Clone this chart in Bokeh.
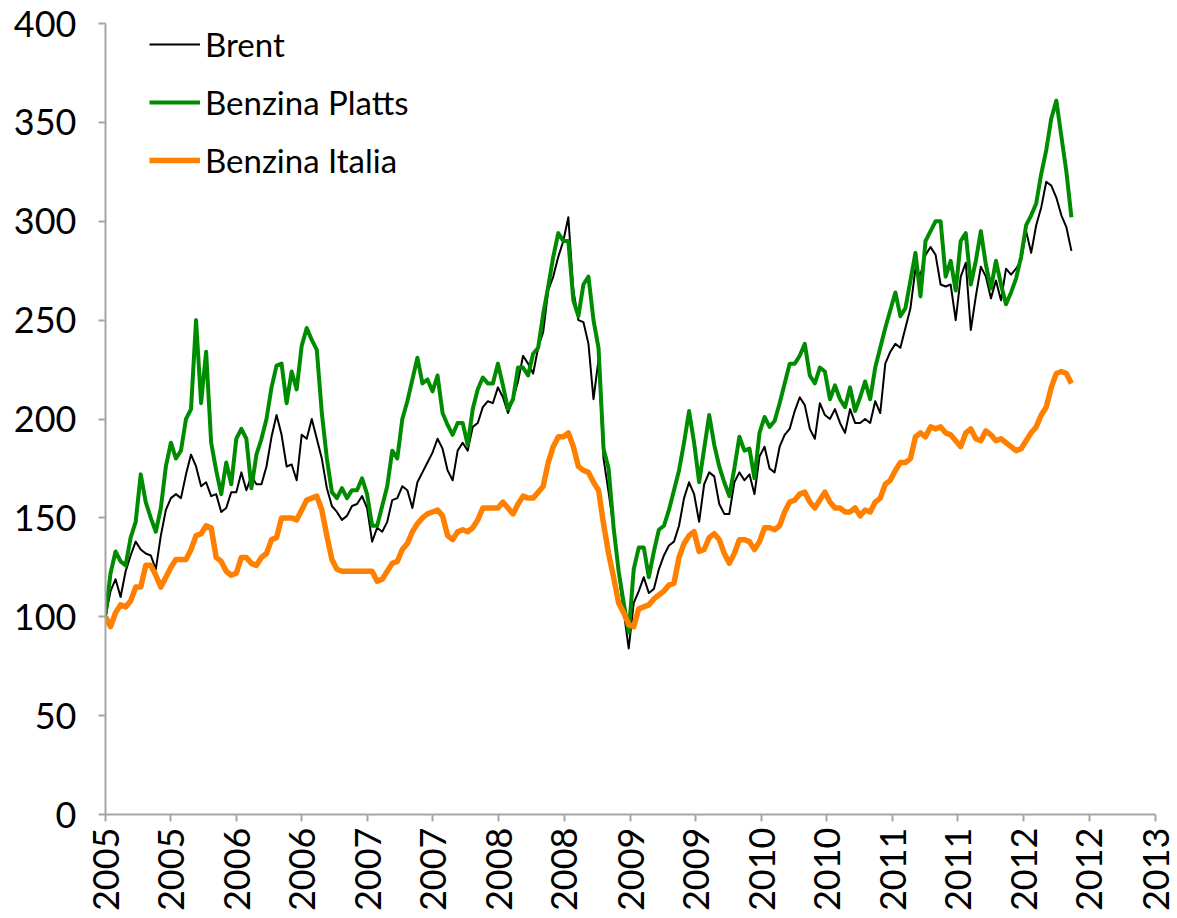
import math
import pandas as pd
from bokeh.plotting import figure
from bokeh.models import Range1d, FixedTicker, Legend, LegendItem, DatetimeTickFormatter
from bokeh.embed import file_html
from bokeh.resources import INLINE

# ---- data (index, 2005 = 100), biweekly observations from 2005-01-01 ----
START = "2005-01-01"
STEP = "14D"

BRENT = [
    100, 113, 119, 110, 123, 131, 138, 134, 132, 131,
    124, 141, 154, 160, 162, 160, 172, 182, 176, 166,
    168, 161, 162, 153, 155, 163, 163, 173, 164, 171,
    167, 167, 176, 191, 202, 192, 176, 177, 169, 192,
    190, 200, 190, 180, 165, 156, 153, 149, 151, 156,
    157, 161, 155, 138, 145, 143, 148, 159, 160, 166,
    164, 155, 168, 173, 178, 183, 190, 185, 174, 169,
    184, 188, 184, 196, 198, 206, 209, 208, 216, 211,
    203, 210, 219, 232, 228, 223, 236, 244, 265, 272,
    282, 290, 302, 265, 250, 249, 238, 210, 230, 180,
    163, 145, 122, 103, 84, 107, 113, 120, 112, 114,
    124, 131, 136, 138, 146, 160, 168, 162, 148, 167,
    173, 171, 157, 152, 152, 168, 173, 169, 172, 162,
    181, 186, 175, 173, 186, 192, 195, 204, 211, 207,
    195, 190, 208, 202, 200, 205, 198, 193, 205, 198,
    198, 200, 198, 209, 203, 228, 234, 238, 236, 246,
    256, 276, 273, 283, 287, 283, 268, 267, 268, 250,
    272, 279, 245, 262, 277, 272, 261, 270, 260, 276,
    273, 276, 280, 295, 284, 298, 307, 320, 318, 312,
    303, 297, 285,
]

PLATTS = [
    101, 122, 133, 128, 126, 140, 148, 172, 158, 150,
    143, 155, 176, 188, 180, 184, 200, 205, 250, 208,
    234, 188, 174, 162, 178, 167, 190, 195, 190, 165,
    182, 190, 200, 216, 227, 228, 208, 224, 215, 237,
    246, 240, 235, 203, 180, 163, 160, 165, 160, 164,
    164, 170, 162, 146, 146, 156, 166, 184, 180, 200,
    209, 220, 231, 218, 220, 214, 222, 203, 197, 192,
    198, 198, 187, 205, 215, 221, 218, 218, 228, 217,
    205, 210, 226, 226, 222, 233, 236, 253, 267, 282,
    294, 290, 290, 260, 252, 268, 272, 250, 236, 185,
    175, 145, 123, 107, 92, 124, 135, 135, 120, 133,
    144, 146, 154, 164, 174, 188, 204, 188, 168, 185,
    202, 187, 176, 168, 161, 175, 191, 184, 185, 170,
    193, 201, 196, 199, 208, 218, 228, 228, 232, 238,
    222, 218, 226, 224, 210, 217, 210, 206, 216, 204,
    211, 219, 210, 226, 236, 246, 255, 264, 252, 256,
    270, 284, 262, 290, 295, 300, 300, 272, 280, 265,
    290, 294, 268, 280, 295, 278, 266, 280, 268, 258,
    264, 271, 282, 298, 303, 309, 324, 336, 352, 361,
    343, 325, 302,
]

ITALIA = [
    100, 95, 102, 106, 105, 108, 115, 115, 126, 126,
    121, 115, 120, 125, 129, 129, 129, 134, 141, 142,
    146, 145, 130, 128, 123, 121, 122, 130, 130, 127,
    126, 130, 132, 139, 140, 150, 150, 150, 149, 154,
    159, 160, 161, 154, 141, 129, 124, 123, 123, 123,
    123, 123, 123, 123, 118, 119, 123, 127, 128, 134,
    137, 143, 147, 150, 152, 153, 154, 151, 141, 139,
    143, 144, 143, 145, 149, 155, 155, 155, 155, 158,
    155, 152, 157, 161, 160, 160, 163, 166, 178, 186,
    191, 191, 193, 186, 176, 174, 173, 168, 164, 147,
    132, 120, 107, 102, 96, 95, 104, 105, 106, 109,
    111, 113, 116, 117, 130, 137, 141, 143, 133, 134,
    140, 142, 139, 132, 127, 132, 139, 139, 138, 134,
    138, 145, 145, 144, 146, 153, 158, 159, 162, 163,
    158, 155, 159, 163, 158, 155, 155, 153, 153, 155,
    151, 154, 153, 158, 160, 167, 169, 174, 178, 178,
    180, 191, 193, 191, 196, 195, 196, 193, 192, 189,
    186, 193, 195, 190, 189, 194, 192, 189, 190, 188,
    186, 184, 185, 189, 193, 196, 202, 206, 216, 223,
    224, 223, 218,
]

SERIES_NAMES = ["Brent", "Benzina Platts", "Benzina Italia"]

TICK_DATES = [
    "2005-01-01", "2005-07-01", "2006-01-01", "2006-07-01", "2007-01-01",
    "2007-07-01", "2008-01-01", "2008-07-01", "2009-01-01", "2009-07-01",
    "2010-01-01", "2010-07-01", "2011-01-01", "2011-07-01", "2012-01-01",
    "2012-07-01", "2013-01-01",
]
TICK_LABELS = [
    "2005", "2005", "2006", "2006", "2007", "2007", "2008", "2008", "2009",
    "2009", "2010", "2010", "2011", "2011", "2012", "2012", "2013",
]
Y_TICKS = [0, 50, 100, 150, 200, 250, 300, 350, 400]

# ---- build ----
dates = pd.date_range(START, periods=len(BRENT), freq=STEP)
tick_ms = [pd.Timestamp(d).timestamp() * 1000.0 for d in TICK_DATES]

FONT = "Lato"
AXIS_GRAY = "#A6A6A6"

p = figure(
    width=1175, height=916,
    x_axis_type="datetime",
    x_range=Range1d(pd.Timestamp(TICK_DATES[0]), pd.Timestamp(TICK_DATES[-1])),
    y_range=Range1d(Y_TICKS[0], Y_TICKS[-1]),
    output_backend="svg", toolbar_location=None,
    min_border_left=105, min_border_right=20, min_border_top=23, min_border_bottom=102,
)
p.outline_line_color = None
p.grid.visible = False
p.background_fill_color = "white"
p.border_fill_color = "white"

r_brent = p.line(dates, BRENT, line_color="black", line_width=2, line_join="round")
r_platts = p.line(dates, PLATTS, line_color="#008C00", line_width=4, line_join="round")
r_italia = p.line(dates, ITALIA, line_color="#FF8000", line_width=5.5, line_join="round")

xa = p.xaxis[0]
xa.ticker = FixedTicker(ticks=tick_ms)
xa.formatter = DatetimeTickFormatter(
    years="%Y", months="%Y", days="%Y", hours="%Y", minutes="%Y",
    seconds="%Y", milliseconds="%Y", microseconds="%Y", minsec="%Y", hourmin="%Y",
)
xa.major_label_overrides = {t: lab for t, lab in zip(tick_ms, TICK_LABELS)}
xa.major_label_orientation = math.pi / 2
xa.major_label_standoff = 6

ya = p.yaxis[0]
ya.ticker = FixedTicker(ticks=Y_TICKS)
ya.major_label_standoff = 22

for ax in (xa, ya):
    ax.axis_line_color = AXIS_GRAY
    ax.axis_line_width = 2
    ax.major_tick_line_color = AXIS_GRAY
    ax.major_tick_line_width = 2
    ax.major_tick_out = 7
    ax.major_tick_in = 0
    ax.minor_tick_line_color = None
    ax.major_label_text_font = FONT
    ax.major_label_text_font_size = "36px"
    ax.major_label_text_color = "black"

legend = Legend(
    items=[
        LegendItem(label=SERIES_NAMES[0], renderers=[r_brent]),
        LegendItem(label=SERIES_NAMES[1], renderers=[r_platts]),
        LegendItem(label=SERIES_NAMES[2], renderers=[r_italia]),
    ],
    location=(44, 634),
    orientation="vertical",
    border_line_color=None,
    background_fill_alpha=0,
    label_text_font=FONT,
    label_text_font_size="33px",
    label_text_color="black",
    glyph_width=51,
    glyph_height=38,
    label_height=38,
    label_standoff=5,
    spacing=18,
    padding=0,
    margin=0,
)
p.add_layout(legend)

open("out.html", "w").write(file_html(p, INLINE))
